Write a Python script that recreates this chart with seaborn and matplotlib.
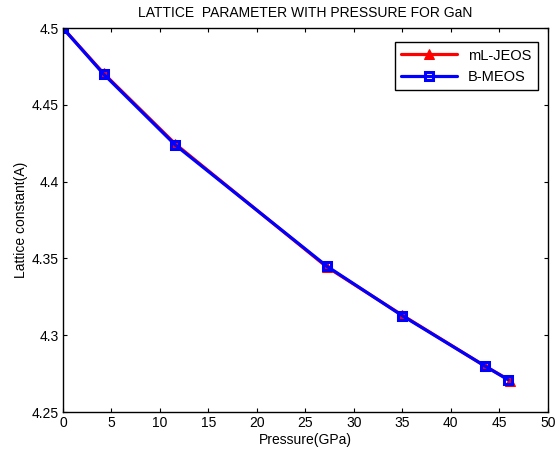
import matplotlib
matplotlib.use("Agg")
import matplotlib.pyplot as plt
import seaborn as sns
import pandas as pd

pressure_jeos = [0, 4.2, 11.6, 27.2, 35.0, 43.5, 46.1]
lattice_jeos = [4.500, 4.4705, 4.4245, 4.3445, 4.3130, 4.2800, 4.2705]
pressure_meos = [0, 4.2, 11.6, 27.2, 35.0, 43.5, 45.9]
lattice_meos = [4.500, 4.470, 4.4238, 4.345, 4.3127, 4.2800, 4.2710]

sns.set_style("ticks")
plt.rcParams['font.family'] = ['Liberation Sans', 'DejaVu Sans']
plt.rcParams['text.color'] = 'black'
plt.rcParams['axes.labelcolor'] = 'black'
plt.rcParams['xtick.color'] = 'black'
plt.rcParams['ytick.color'] = 'black'

df1 = pd.DataFrame({"p": pressure_jeos, "a": lattice_jeos})
df2 = pd.DataFrame({"p": pressure_meos, "a": lattice_meos})

fig = plt.figure(figsize=(5.59, 4.54), dpi=100)
ax = fig.add_axes([0.1127, 0.0925, 0.8673, 0.8455])

sns.lineplot(data=df1, x="p", y="a", ax=ax, color="red", linewidth=2.3,
             marker="^", markersize=7, markerfacecolor="red", markeredgecolor="red",
             label="mL-JEOS", sort=False)
sns.lineplot(data=df2, x="p", y="a", ax=ax, color="blue", linewidth=2.3,
             marker="s", markersize=6, markerfacecolor="none", markeredgecolor="blue",
             markeredgewidth=2.2, label="B-MEOS", sort=False)

ax.set_xlim(0, 50)
ax.set_ylim(4.25, 4.5)
ax.set_xticks(range(0, 51, 5))
ax.set_yticks([4.25, 4.3, 4.35, 4.4, 4.45, 4.5])
ax.set_yticklabels(["4.25", "4.3", "4.35", "4.4", "4.45", "4.5"])
ax.tick_params(direction="in", top=True, right=True, length=3, width=0.8,
               labelsize=10, colors="black", pad=3)
for s in ax.spines.values():
    s.set_visible(True)
    s.set_color("black")
    s.set_linewidth(1.0)

ax.set_xlabel("Pressure(GPa)", fontsize=10, labelpad=2)
ax.set_ylabel("Lattice constant(A)", fontsize=10, labelpad=3)
ax.set_title("LATTICE  PARAMETER WITH PRESSURE FOR GaN", fontsize=10, pad=8)

leg = ax.legend(loc="upper right", fontsize=10.5, fancybox=False, framealpha=1,
                edgecolor="black", handlelength=3.8, borderpad=0.45,
                labelspacing=0.5, bbox_to_anchor=(0.995, 0.983))
leg.get_frame().set_linewidth(1.0)

fig.savefig("out.png", dpi=100)
